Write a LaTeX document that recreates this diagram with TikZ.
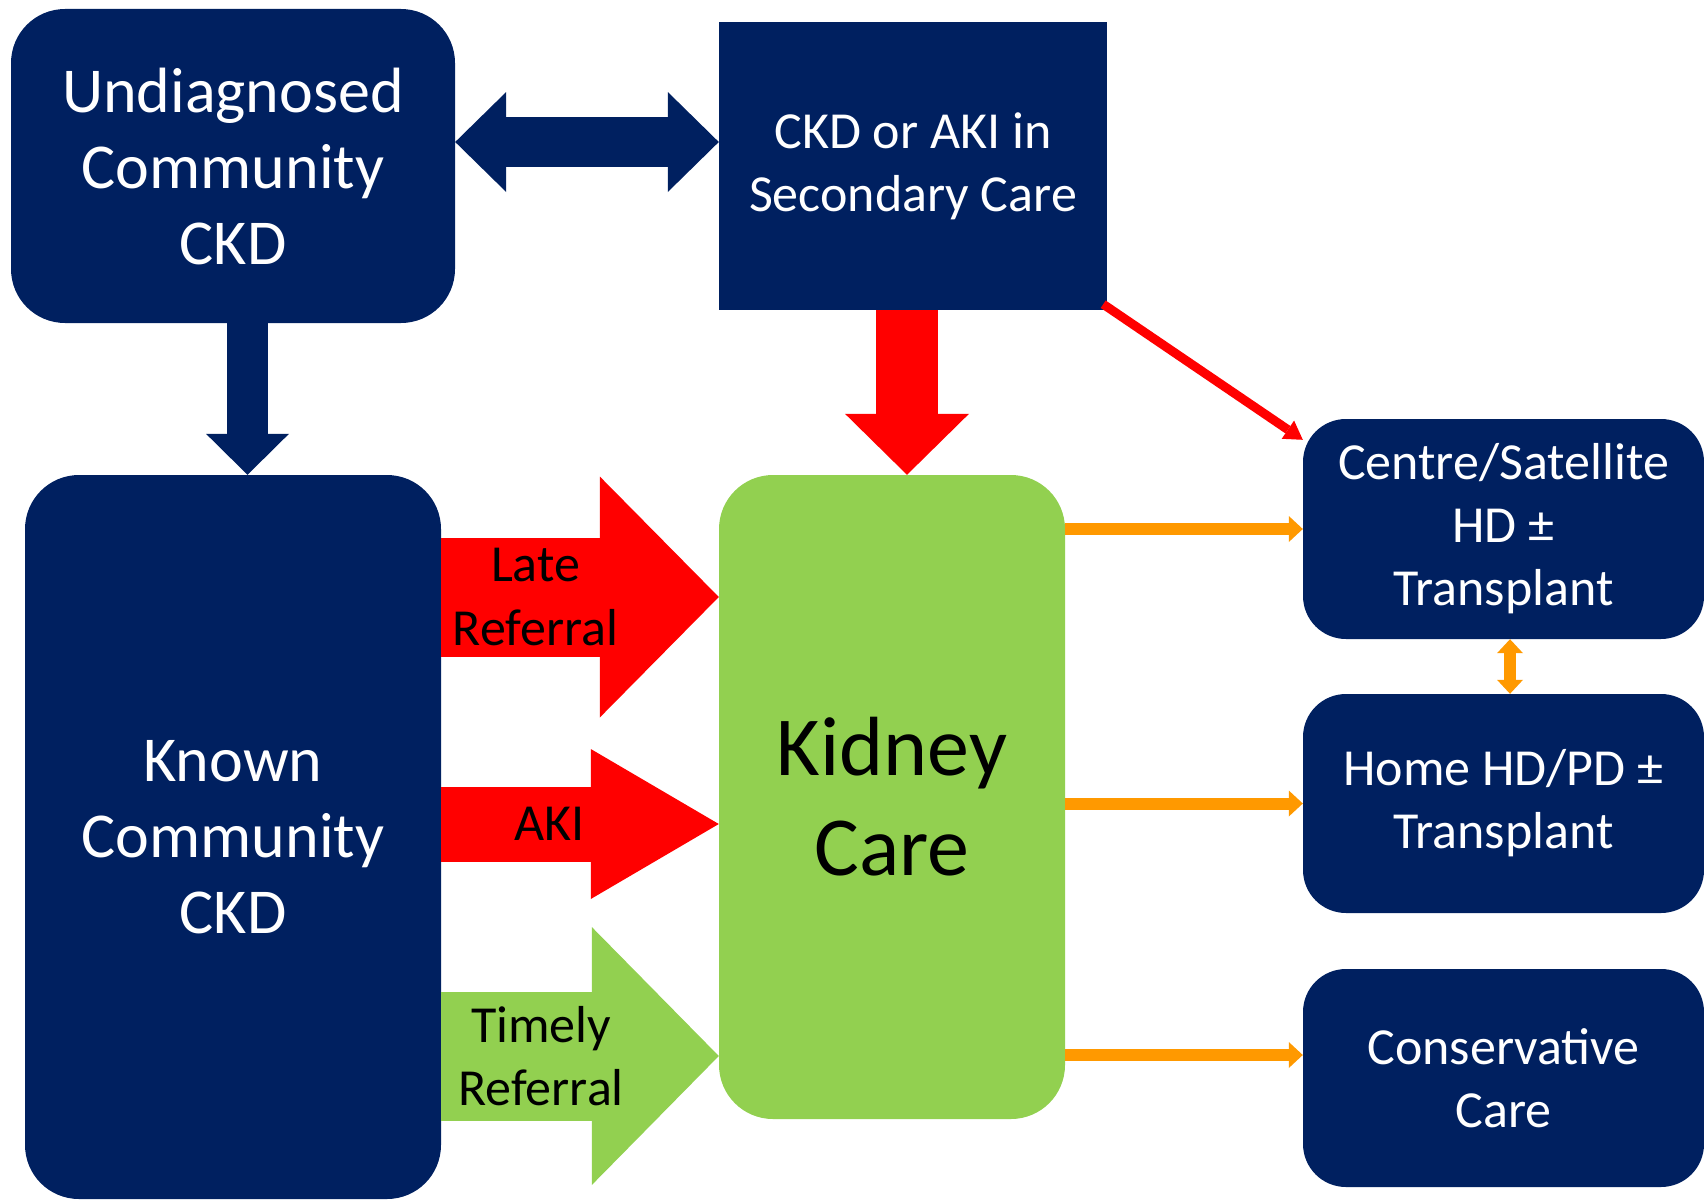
\documentclass[tikz,border=0pt]{standalone}
\usepackage{fontspec}
\setmainfont{Carlito}
\usetikzlibrary{arrows.meta}
\definecolor{navy}{HTML}{002060}
\definecolor{kgreen}{HTML}{92D050}
\definecolor{kred}{HTML}{FF0000}
\definecolor{korange}{HTML}{FF9900}
\tikzset{navybox/.style = {fill=navy, text=white, rectangle, rounded corners=54pt, inner sep=0pt, align=center, font=\fontsize{64}{76}\selectfont},
         optbox/.style = {fill=navy, text=white, rectangle, rounded corners=43pt, minimum width=401pt, inner sep=0pt, align=center, font=\fontsize{52}{63}\selectfont},
         carebox/.style = {fill=kgreen, text=black, rectangle, rounded corners=54pt, inner sep=0pt, align=center, font=\fontsize{84}{100}\selectfont},
         fat/.style n args = {3}{line width=#1, >={Triangle[length=#2, width=#3, line width=0pt]}, ->},
         arrowlabel/.style = {text=black, align=center, inner sep=0pt, font=\fontsize{52}{63}\selectfont},
         flow/.style = {korange, line width=12pt, >={Triangle[length=14pt, width=26pt, line width=0pt]}, ->}}

\begin{document}
\begin{tikzpicture}[x=1pt,y=-1pt]
        \useasboundingbox (0,0) rectangle (1704,1199);

        \node[navybox, minimum width=444pt, minimum height=314pt] (undiag) at (233,166) {Undiagnosed\\Community\\CKD};
        \node[navybox, sharp corners, minimum width=388pt, minimum height=288pt, font=\fontsize{52}{63}\selectfont] (second) at (913,166) {CKD or AKI in\\Secondary Care};
        \node[navybox, minimum width=416pt, minimum height=724pt] (known) at (233,837) {Known\\Community\\CKD};
        \node[carebox, minimum width=346pt, minimum height=644pt] (kidney) at (892,797) {Kidney\\Care};

        \node[optbox, minimum height=220pt] (centre) at (1503.5,529) {Centre/Satellite\\HD ±\\Transplant};
        \node[optbox, minimum height=219pt] (home) at (1503.5,803.5) {Home HD/PD ±\\Transplant};
        \node[optbox, minimum height=218pt] (cons) at (1503.5,1078) {Conservative\\Care};

        \draw[fat={50pt}{51pt}{100pt}, navy, <->] (undiag.east |- 0,142) -- (second.west |- 0,142);
        \draw[fat={41pt}{41pt}{83pt}, navy] (247.5,0 |- undiag.south) -- (247.5,0 |- known.north);
        \draw[fat={62pt}{61pt}{124pt}, kred] (907,0 |- second.south) -- (907,0 |- kidney.north);

        \draw[fat={119pt}{119pt}{241pt}, kred] (known.east |- 0,597) -- node[arrowlabel, pos=0.34]{Late\\Referral} (kidney.west |- 0,597);
        \draw[fat={75pt}{128pt}{150pt}, kred] (known.east |- 0,824) -- node[arrowlabel, pos=0.39]{AKI} (kidney.west |- 0,824);
        \draw[fat={129pt}{127pt}{258pt}, kgreen] (known.east |- 0,1056) -- node[arrowlabel, pos=0.36]{Timely\\Referral} (kidney.west |- 0,1056);

        \draw[kred, line width=9pt, -{Triangle[length=18pt, width=22pt, line width=0pt]}] ([xshift=-4pt,yshift=6pt]second.south east) -- ([yshift=-21pt]centre.north west);

        \draw[flow] (kidney.east |- centre.west) -- (centre.west);
        \draw[flow] (kidney.east |- home.west) -- (home.west);
        \draw[flow] (kidney.east |- 0,1055) -- (cons.west |- 0,1055);
        \draw[flow, <->] (1510,0 |- centre.south) -- (1510,0 |- home.north);
    \end{tikzpicture}
\end{document}
